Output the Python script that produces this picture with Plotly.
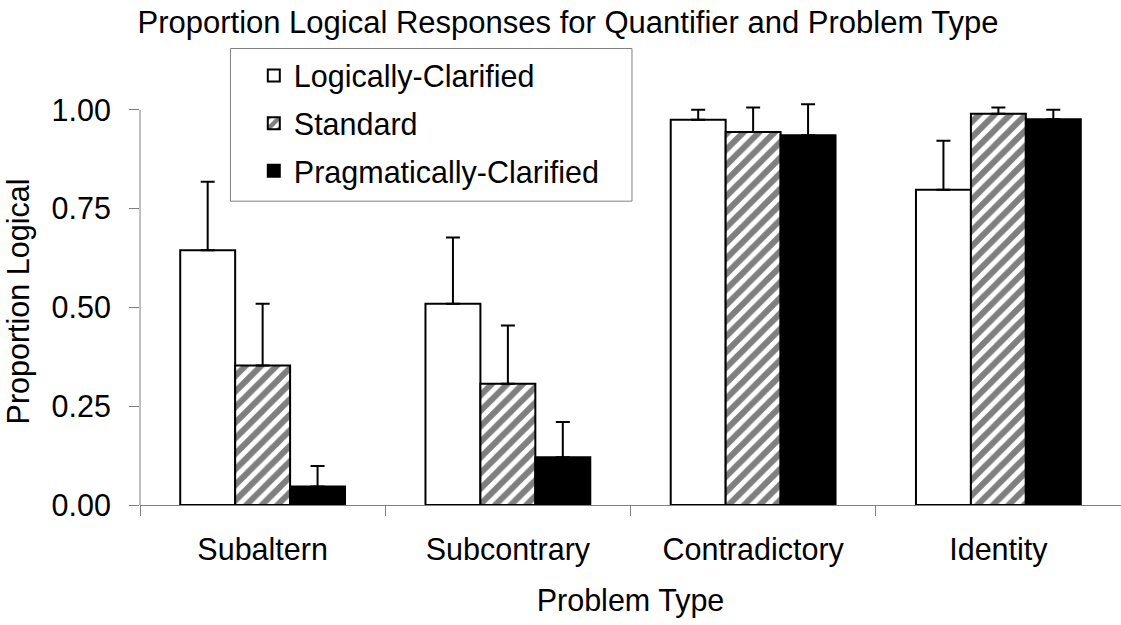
import plotly.graph_objects as go

categories = ["Subaltern", "Subcontrary", "Contradictory", "Identity"]
series_names = ["Logically-Clarified", "Standard", "Pragmatically-Clarified"]
logically_clarified = [0.645, 0.509, 0.975, 0.798]
standard = [0.353, 0.307, 0.944, 0.990]
pragmatically_clarified = [0.047, 0.121, 0.936, 0.976]
err_logically = [0.173, 0.168, 0.025, 0.124]
err_standard = [0.156, 0.147, 0.062, 0.016]
err_pragmatically = [0.052, 0.089, 0.078, 0.024]
y_ticks = [0, 0.25, 0.5, 0.75, 1.0]

FONT = "Liberation Sans, Arial, sans-serif"
FS = 30.5
AX = "#808080"

fig = go.Figure()

def err(vals):
    return dict(type="data", array=vals, arrayminus=[0] * len(vals), symmetric=False,
                color="black", thickness=2, width=7)

fig.add_trace(go.Bar(
    name=series_names[0], x=categories, y=logically_clarified,
    marker=dict(color="white", line=dict(color="black", width=2)),
    error_y=err(err_logically), legendgroup="a"))
fig.add_trace(go.Bar(
    name=series_names[1], x=categories, y=standard,
    marker=dict(color="white", line=dict(color="black", width=2),
                pattern=dict(shape="/", fgcolor="black", bgcolor="white", size=11, solidity=0.55)),
    error_y=err(err_standard), legendgroup="b"))
fig.add_trace(go.Bar(
    name=series_names[2], x=categories, y=pragmatically_clarified,
    marker=dict(color="black", line=dict(color="black", width=2)),
    error_y=err(err_pragmatically), legendgroup="c"))

# legend frame
fig.add_shape(type="rect", xref="paper", yref="paper",
              x0=0.0922, x1=0.5015, y0=0.7465, y1=1.1216,
              line=dict(color=AX, width=1), fillcolor="white", layer="above")
# y axis line from 0 to 1
fig.add_shape(type="line", xref="paper", yref="y", x0=0, x1=0, y0=0, y1=1,
              line=dict(color=AX, width=1), layer="above")

fig.update_layout(
    width=1121, height=625,
    margin=dict(l=139.5, r=0, t=97.6, b=119.5),
    paper_bgcolor="white", plot_bgcolor="white",
    font=dict(family=FONT, size=FS, color="black"),
    barmode="group", bargap=0.328, bargroupgap=0,
    title=dict(text="Proportion Logical Responses for Quantifier and Problem Type",
               x=568 / 1121, xref="container", xanchor="center",
               y=1 - 22 / 625, yref="container", yanchor="middle",
               font=dict(size=31, family=FONT, color="black")),
    showlegend=True,
    legend=dict(x=0.116, xanchor="left", y=1.12, yanchor="top",
                bgcolor="rgba(0,0,0,0)", borderwidth=0,
                font=dict(size=FS, family=FONT, color="black"),
                tracegroupgap=5),
    xaxis=dict(showline=True, linecolor=AX, linewidth=1, ticks="outside", tickson="boundaries",
               ticklen=10, tickcolor=AX, tickwidth=1, showgrid=False, zeroline=False,
               range=[-0.5, 3.5], ticklabelstandoff=17,
               title=dict(text="Problem Type", standoff=24, font=dict(size=FS)),
               automargin=False),
    yaxis=dict(showline=False, ticks="outside", ticklen=10, tickcolor=AX, tickwidth=1,
               showgrid=False, zeroline=False, range=[0, 1.03],
               tickvals=y_ticks, tickformat=".2f", ticklabelstandoff=12,
               title=dict(text="Proportion Logical", standoff=12, font=dict(size=FS)),
               automargin=False),
)

fig.write_html("out.html", config={"displayModeBar": False},
               post_script="document.body.style.margin='0';document.body.style.padding='0';")
